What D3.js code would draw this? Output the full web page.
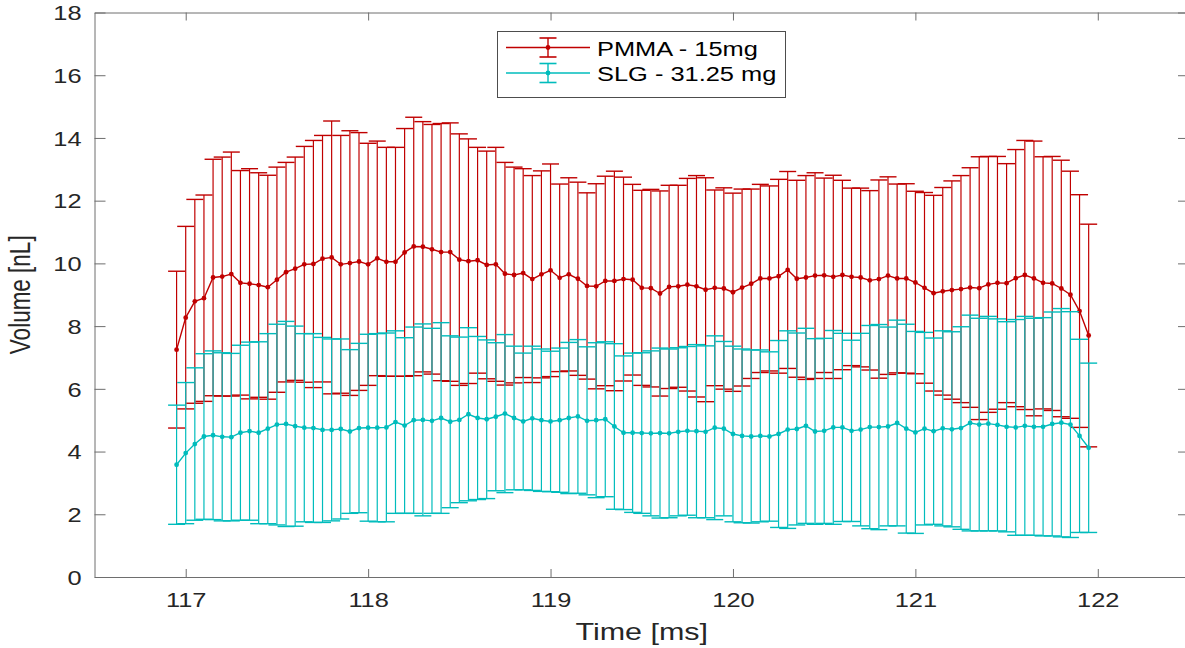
<!DOCTYPE html>
<html>
<head>
<meta charset="utf-8">
<script src="https://cdn.jsdelivr.net/npm/d3@7"></script>
<style>
  html, body { margin: 0; padding: 0; background: #fff; overflow: hidden; }
  svg { display: block; }
</style>
</head>
<body>
<svg id="chart" width="1185" height="648"></svg>
<script>
// Sampling times [ms]
const times = [116.95,117,117.05,117.1,117.15,117.2,117.25,117.3,117.35,117.4,117.45,117.5,117.55,117.6,117.65,117.7,117.75,117.8,117.85,117.9,117.95,
  118,118.05,118.1,118.15,118.2,118.25,118.3,118.35,118.4,118.45,118.5,118.55,118.6,118.65,118.7,118.75,118.8,118.85,118.9,118.95,
  119,119.05,119.1,119.15,119.2,119.25,119.3,119.35,119.4,119.45,119.5,119.55,119.6,119.65,119.7,119.75,119.8,119.85,119.9,119.95,
  120,120.05,120.1,120.15,120.2,120.25,120.3,120.35,120.4,120.45,120.5,120.55,120.6,120.65,120.7,120.75,120.8,120.85,120.9,120.95,
  121,121.05,121.1,121.15,121.2,121.25,121.3,121.35,121.4,121.45,121.5,121.55,121.6,121.65,121.7,121.75,121.8,121.85,121.9,121.95];

// PMMA - 15mg: mean volume [nL] and half-width of the error bar
const pmmaMean = [7.25,8.27,8.79,8.89,9.55,9.58,9.66,9.38,9.35,9.31,9.24,9.48,9.72,9.83,9.97,9.98,10.15,10.19,9.97,10.01,10.06,
  9.97,10.16,10.05,10.05,10.35,10.54,10.53,10.45,10.36,10.36,10.12,10.07,10.10,9.95,9.97,9.67,9.63,9.69,9.50,9.65,
  9.78,9.54,9.65,9.51,9.28,9.27,9.44,9.44,9.50,9.48,9.22,9.21,9.04,9.25,9.27,9.32,9.27,9.16,9.22,9.20,
  9.08,9.23,9.35,9.52,9.52,9.59,9.79,9.51,9.55,9.61,9.62,9.57,9.63,9.57,9.55,9.46,9.50,9.61,9.52,9.52,
  9.39,9.22,9.05,9.11,9.15,9.18,9.23,9.21,9.33,9.38,9.37,9.53,9.63,9.52,9.38,9.36,9.20,9.00,8.48,7.70];
const pmmaErr = [2.50,2.91,3.25,3.29,3.77,3.81,3.89,3.58,3.67,3.58,3.57,3.59,3.50,3.56,3.76,3.94,3.93,4.35,4.11,4.22,4.11,
  3.86,3.74,3.65,3.65,3.95,4.12,3.99,3.98,4.10,4.12,4.01,3.90,3.60,3.63,3.73,3.55,3.44,3.33,3.30,3.30,
  3.39,2.99,3.08,3.08,2.97,3.27,3.34,3.50,3.25,3.04,3.11,3.15,3.27,3.24,3.22,3.39,3.53,3.57,3.12,3.21,
  3.16,3.14,3.02,3.00,2.95,3.09,3.14,3.14,3.25,3.28,3.10,3.24,3.02,2.83,2.85,2.86,3.16,3.15,3.01,3.02,
  2.91,3.04,3.12,3.31,3.48,3.62,3.82,4.19,4.08,4.03,3.81,4.10,4.29,4.38,4.02,4.05,4.09,3.94,3.71,3.55];

// SLG - 31.25 mg: mean volume [nL] and half-width of the error bar
const slgMean = [3.58,3.95,4.24,4.48,4.52,4.47,4.46,4.60,4.65,4.60,4.73,4.86,4.88,4.81,4.76,4.75,4.69,4.69,4.72,4.64,4.75,
  4.76,4.76,4.77,4.94,4.83,5.00,5.01,4.98,5.07,4.95,5.01,5.19,5.07,5.03,5.11,5.21,5.07,4.96,5.06,5.00,
  4.96,5.00,5.07,5.12,4.98,5.00,5.03,4.80,4.60,4.60,4.59,4.58,4.59,4.58,4.63,4.66,4.65,4.63,4.76,4.73,
  4.56,4.50,4.48,4.50,4.48,4.56,4.70,4.72,4.82,4.64,4.66,4.77,4.77,4.66,4.70,4.78,4.78,4.80,4.91,4.73,
  4.61,4.73,4.65,4.74,4.71,4.75,4.91,4.86,4.89,4.85,4.79,4.77,4.82,4.79,4.79,4.88,4.92,4.86,4.50,4.12];
const slgErr = [1.90,2.25,2.43,2.64,2.69,2.68,2.67,2.79,2.84,2.90,3.03,3.20,3.27,3.19,3.00,3.01,2.95,2.90,2.87,2.61,2.70,
  2.98,3.00,3.01,2.91,2.80,2.97,3.06,2.95,3.04,2.74,2.64,2.76,2.60,2.53,2.36,2.52,2.29,2.18,2.30,2.27,
  2.24,2.30,2.41,2.45,2.36,2.47,2.47,2.64,2.45,2.54,2.56,2.63,2.71,2.69,2.68,2.69,2.76,2.74,2.93,2.78,
  2.80,2.77,2.76,2.74,2.70,2.98,3.15,3.06,3.11,2.96,2.95,3.09,3.00,2.89,3.07,3.24,3.27,3.17,3.28,3.33,
  3.22,3.07,2.97,3.11,3.11,3.23,3.44,3.39,3.42,3.38,3.35,3.44,3.49,3.46,3.48,3.57,3.64,3.60,3.08,2.70];

const xTicks = [117, 118, 119, 120, 121, 122];
const yTicks = [0, 2, 4, 6, 8, 10, 12, 14, 16, 18];
const seriesNames = ["PMMA - 15mg", "SLG - 31.25 mg"];

// ---- layout & style ----
const FONT = "'Liberation Sans', Arial, Helvetica, sans-serif";
const SX = 1.27;                 // horizontal glyph stretch of all text
const TEXT = "#262626";
const AXIS = "#6e6e6e";
const colors = ["#c00000", "#00bcbc"];
const plot = { left: 94.5, top: 12.5, right: 1189, bottom: 577 };
const CAP = 8.5;                 // half-width of error-bar caps

const svg = d3.select("#chart");
const x = d3.scaleLinear().domain([116.5, 122.5]).range([plot.left, plot.right]);
const y = d3.scaleLinear().domain([0, 18]).range([plot.bottom, plot.top]);

// ---- axes (box with inward ticks) ----
function styleAxis(g) {
  g.selectAll("path.domain").attr("stroke", AXIS).attr("stroke-width", 1);
  g.selectAll(".tick line").attr("stroke", AXIS).attr("stroke-width", 1);
}
const gx = svg.append("g").attr("transform", `translate(0,${plot.bottom})`)
  .call(d3.axisBottom(x).tickValues(xTicks).tickSizeInner(-8).tickSizeOuter(0).tickFormat(d3.format("d")))
  .call(styleAxis);
gx.selectAll(".tick text")
  .attr("y", 30.5).attr("dy", null)
  .attr("font-family", FONT).attr("font-size", 20).attr("fill", TEXT)
  .attr("transform", `scale(${SX},1)`);

svg.append("g").attr("transform", `translate(0,${plot.top})`)
  .call(d3.axisTop(x).tickValues(xTicks).tickSizeInner(-8).tickSizeOuter(0).tickFormat(""))
  .call(styleAxis);

const gy = svg.append("g").attr("transform", `translate(${plot.left},0)`)
  .call(d3.axisLeft(y).tickValues(yTicks).tickSizeInner(-11).tickSizeOuter(0).tickFormat(d3.format("d")))
  .call(styleAxis);
gy.selectAll(".tick text")
  .attr("x", -13 / SX).attr("dy", "0.36em")
  .attr("font-family", FONT).attr("font-size", 20).attr("fill", TEXT)
  .attr("transform", `scale(${SX},1)`);

svg.append("g").attr("transform", `translate(${plot.right},0)`)
  .call(d3.axisRight(y).tickValues(yTicks).tickSizeInner(-11).tickSizeOuter(0).tickFormat(""))
  .call(styleAxis);

// axis titles
svg.append("text")
  .attr("transform", `translate(${x(119.5)},640) scale(${SX},1)`)
  .attr("text-anchor", "middle")
  .attr("font-family", FONT).attr("font-size", 24).attr("fill", TEXT)
  .text("Time [ms]");
svg.append("text")
  .attr("transform", `translate(30,${(plot.top + plot.bottom) / 2}) scale(${SX},1) rotate(-90)`)
  .attr("text-anchor", "middle")
  .attr("font-family", FONT).attr("font-size", 22.5).attr("fill", TEXT)
  .text("Volume [nL]");

// ---- error-bar series ----
function drawSeries(mean, err, color) {
  const rows = times.map((t, i) => ({ t, m: mean[i], e: err[i] }));
  const g = svg.append("g").attr("stroke", color).attr("fill", "none");
  const bars = g.selectAll("g.bar").data(rows).join("g").attr("class", "bar");
  bars.append("line")
    .attr("x1", d => x(d.t)).attr("x2", d => x(d.t))
    .attr("y1", d => y(d.m - d.e)).attr("y2", d => y(d.m + d.e))
    .attr("stroke-width", 1.2);
  bars.append("line")
    .attr("x1", d => x(d.t) - CAP).attr("x2", d => x(d.t) + CAP)
    .attr("y1", d => y(d.m + d.e)).attr("y2", d => y(d.m + d.e))
    .attr("stroke-width", 1.4);
  bars.append("line")
    .attr("x1", d => x(d.t) - CAP).attr("x2", d => x(d.t) + CAP)
    .attr("y1", d => y(d.m - d.e)).attr("y2", d => y(d.m - d.e))
    .attr("stroke-width", 1.4);
  g.append("path")
    .attr("d", d3.line().x(d => x(d.t)).y(d => y(d.m))(rows))
    .attr("stroke-width", 1.4);
  g.selectAll("circle").data(rows).join("circle")
    .attr("cx", d => x(d.t)).attr("cy", d => y(d.m)).attr("r", 2.4)
    .attr("fill", color).attr("stroke", "none");
}
drawSeries(pmmaMean, pmmaErr, colors[0]);
drawSeries(slgMean, slgErr, colors[1]);

// ---- legend ----
const lg = svg.append("g");
lg.append("rect").attr("x", 497.5).attr("y", 31.5).attr("width", 288).attr("height", 66)
  .attr("fill", "#fff").attr("stroke", "#4d4d4d").attr("stroke-width", 1);
seriesNames.forEach((name, i) => {
  const cy = 47.5 + i * 25.5, cx = 548;
  const row = lg.append("g").attr("stroke", colors[i]);
  row.append("line").attr("x1", 506).attr("x2", 590).attr("y1", cy).attr("y2", cy).attr("stroke-width", 1.4);
  row.append("line").attr("x1", cx).attr("x2", cx).attr("y1", cy - 9.5).attr("y2", cy + 9.5).attr("stroke-width", 1.4);
  row.append("line").attr("x1", cx - CAP).attr("x2", cx + CAP).attr("y1", cy - 9.5).attr("y2", cy - 9.5).attr("stroke-width", 1.6);
  row.append("line").attr("x1", cx - CAP).attr("x2", cx + CAP).attr("y1", cy + 9.5).attr("y2", cy + 9.5).attr("stroke-width", 1.6);
  row.append("circle").attr("cx", cx).attr("cy", cy).attr("r", 2.4).attr("fill", colors[i]).attr("stroke", "none");
  lg.append("text")
    .attr("transform", `translate(597,${cy + 8}) scale(${SX},1)`)
    .attr("font-family", FONT).attr("font-size", 20).attr("fill", "#000")
    .text(name);
});
</script>
</body>
</html>
